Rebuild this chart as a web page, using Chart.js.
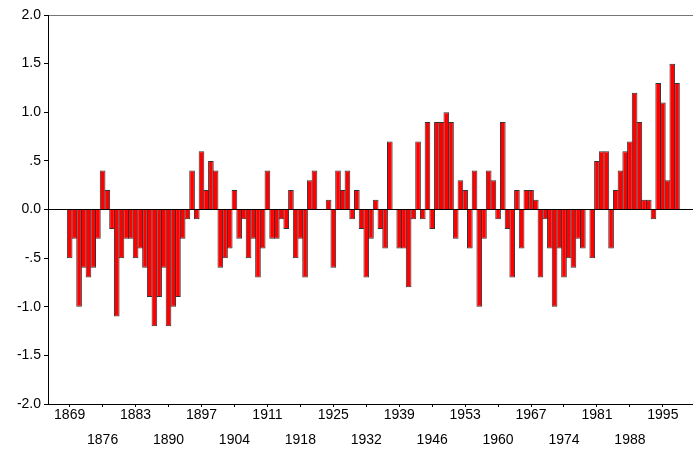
<!DOCTYPE html>
<html>
<head>
<meta charset="utf-8">
<script src="https://cdn.jsdelivr.net/npm/chart.js@4"></script>
<style>
  html, body { margin: 0; padding: 0; background: #fff; }
  #wrap { width: 693px; height: 453px; }
</style>
</head>
<body>
<div id="wrap"><canvas id="barChart"></canvas></div>
<script>
// yearly values, 1869 .. 1998
const firstYear = 1869;
const values = [
  -0.5, -0.3, -1.0, -0.6, -0.7, -0.6, -0.3, 0.4, 0.2, -0.2,   // 1869-1878
  -1.1, -0.5, -0.3, -0.3, -0.5, -0.4, -0.6, -0.9, -1.2, -0.9,  // 1879-1888
  -0.6, -1.2, -1.0, -0.9, -0.3, -0.1, 0.4, -0.1, 0.6, 0.2,     // 1889-1898
  0.5, 0.4, -0.6, -0.5, -0.4, 0.2, -0.3, -0.1, -0.5, -0.3,     // 1899-1908
  -0.7, -0.4, 0.4, -0.3, -0.3, -0.1, -0.2, 0.2, -0.5, -0.3,    // 1909-1918
  -0.7, 0.3, 0.4, 0, 0, 0.1, -0.6, 0.4, 0.2, 0.4,              // 1919-1928
  -0.1, 0.2, -0.2, -0.7, -0.3, 0.1, -0.2, -0.4, 0.7, 0,        // 1929-1938
  -0.4, -0.4, -0.8, -0.1, 0.7, -0.1, 0.9, -0.2, 0.9, 0.9,      // 1939-1948
  1.0, 0.9, -0.3, 0.3, 0.2, -0.4, 0.4, -1.0, -0.3, 0.4,        // 1949-1958
  0.3, -0.1, 0.9, -0.2, -0.7, 0.2, -0.4, 0.2, 0.2, 0.1,        // 1959-1968
  -0.7, -0.1, -0.4, -1.0, -0.4, -0.7, -0.5, -0.6, -0.3, -0.4,  // 1969-1978
  0, -0.5, 0.5, 0.6, 0.6, -0.4, 0.2, 0.4, 0.6, 0.7,            // 1979-1988
  1.2, 0.9, 0.1, 0.1, -0.1, 1.3, 1.1, 0.3, 1.5, 1.3            // 1989-1998
];
const years = values.map((v, i) => firstYear + i);

// tick labels on two rows
const topRowTicks = [1869, 1883, 1897, 1911, 1925, 1939, 1953, 1967, 1981, 1995];
const bottomRowTicks = [1876, 1890, 1904, 1918, 1932, 1946, 1960, 1974, 1988];
const yTicks = [2.0, 1.5, 1.0, 0.5, 0.0, -0.5, -1.0, -1.5, -2.0];

const labelFont = { family: "'Liberation Sans', Arial, sans-serif", size: 14 };

function fmtY(v) {
  if (v === 0) return "0.0";
  if (Math.abs(v) < 1) return (v < 0 ? "-" : "") + String(Math.abs(v)).replace(/^0/, "");
  return v.toFixed(1);
}

const ctx = document.getElementById("barChart");
new Chart(ctx, {
  type: "bar",
  data: {
    datasets: [{
      data: years.map((y, i) => ({ x: y, y: values[i] })),
      backgroundColor: "#ff0000",
      borderColor: "#333",
      borderWidth: 1,
      barPercentage: 1.2,
      categoryPercentage: 1,
    }],
  },
  options: {
    responsive: true,
    maintainAspectRatio: false,
    animation: false,
    layout: { padding: { top: 15, right: 0, left: 0, bottom: 0 } },
    plugins: { legend: { display: false }, tooltip: { enabled: false } },
    scales: {
      x: {
        type: "linear",
        position: "bottom",
        offset: false,
        min: 1864.4,
        max: 2001.4,
        afterBuildTicks: (s) => {
          s.ticks = topRowTicks.concat(bottomRowTicks).sort((a, b) => a - b).map((v) => ({ value: v }));
        },
        afterFit: (s) => { s.height = 49; },
        border: { display: true, color: "#000", width: 1 },
        grid: { offset: false, drawOnChartArea: false, drawTicks: true, tickLength: 3, tickColor: "#000" },
        ticks: {
          autoSkip: false,
          maxRotation: 0,
          padding: 2,
          color: "#000",
          font: { ...labelFont, lineHeight: "12.5px" },
          callback: (v) => (topRowTicks.includes(v) ? String(v) : ["", "", String(v)]),
        },
      },
      x2: {
        type: "linear",
        position: "top",
        offset: false,
        min: 1864.4,
        max: 2001.4,
        afterFit: (s) => { s.height = 0; },
        border: { display: true, color: "#777", width: 1 },
        grid: { display: false },
        ticks: { display: false },
      },
      y: {
        min: -2,
        max: 2,
        afterBuildTicks: (s) => { s.ticks = yTicks.map((v) => ({ value: v })); },
        afterFit: (s) => { s.width = 48; },
        border: { display: true, color: "#000", width: 1 },
        grid: {
          drawOnChartArea: true,
          drawTicks: true,
          tickLength: 4,
          tickColor: "#000",
          color: (c) => (c.tick && c.tick.value === 0 ? "#000" : "rgba(0,0,0,0)"),
        },
        ticks: {
          padding: 3,
          color: "#000",
          font: labelFont,
          callback: (v) => fmtY(v),
        },
      },
    },
  },
});
</script>
</body>
</html>
